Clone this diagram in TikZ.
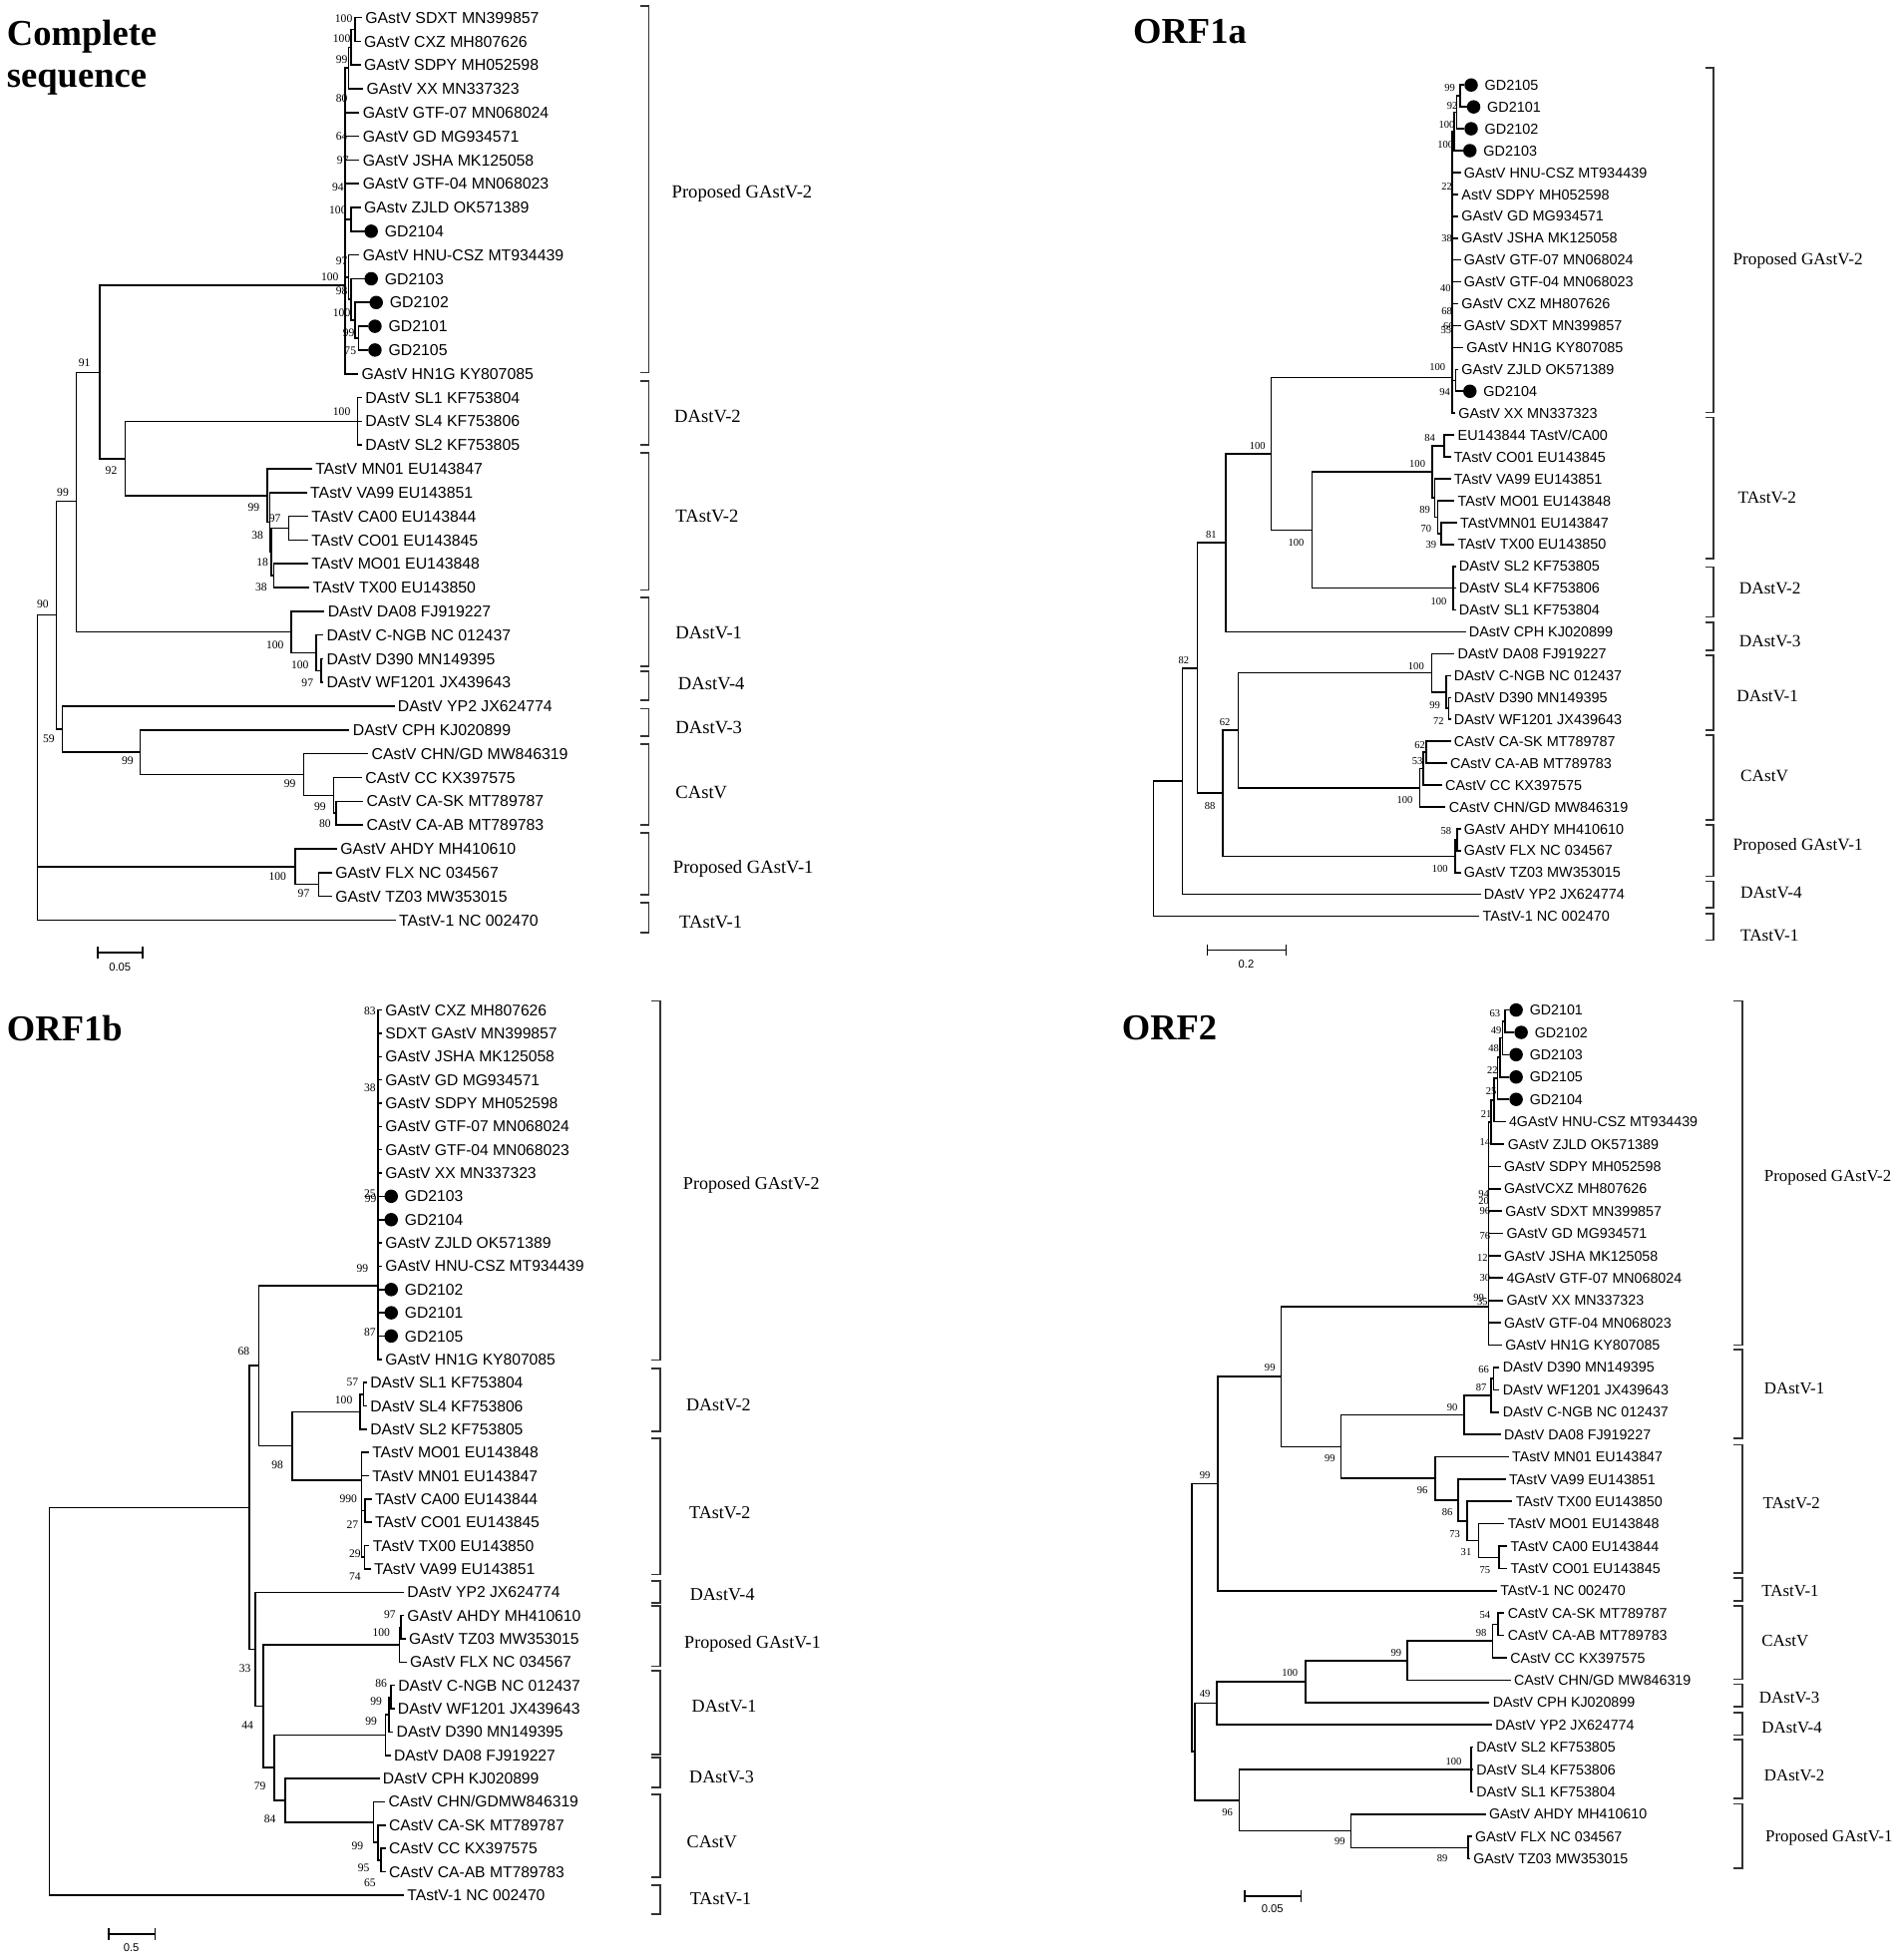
\documentclass[tikz,border=0pt]{standalone}
\usepackage{fontspec}
\setmainfont{Liberation Serif}
\newfontfamily\lsans{Liberation Sans}
\newcounter{phn}
\newcommand\phV[3]{\draw[br] (#1,#2) -- (#1,#3);}
\newcommand\phH[3]{\draw[br] (#1,#3) -- (#2,#3);}
\newcommand\phL[5]{\draw[br] (#1,#2) -- (#3,#2); \node[lf] (#5) at (#3,#2) {#4};}
\newcommand\phD[5]{\node[dotn] (#5d) at (#3,#2) {}; \draw[br] (#1,#2) -- (#5d); \node[lf, xshift=0.95mm] (#5) at (#3,#2) {#4};}
\newcommand\phB[3]{\stepcounter{phn}\node[bs] (bs\arabic{phn}) at (#1,#2) {#3};}
\newcommand\phK[6]{\stepcounter{phn}\draw[brk] ([xshift=-0.85mm]#1,#2) -- (#1,#2) -- (#1,#3) -- ([xshift=-0.85mm]#1,#3); \node[cl] (cl\arabic{phn}) at (#4,#5) {#6};}
\begin{document}
\begin{tikzpicture}[x=0.1253mm, y=-0.1253mm,
  br/.style={line width=0.45pt, line cap=rect},
  brk/.style={line width=0.5pt, draw=black!80},
  dotn/.style={circle, fill=black, draw=none, inner sep=0pt, minimum size=1.35mm},
  ttl/.style={font=\bfseries\fontsize{10.4}{12}\selectfont, anchor=base west, inner sep=0pt},
  sc/.style={font=\lsans\fontsize{3.2}{4}\selectfont, inner sep=0pt}]
\fill[white] (0,0) rectangle (1518,1568);
\useasboundingbox (0,0) rectangle (1518,1568);

%%%%%%%%%%%%%%%% Tree 1: Complete sequence
\begin{scope}[lf/.style={font=\lsans\fontsize{4.5}{5.4}\selectfont, anchor=base west, inner sep=0pt, xshift=0.35mm, yshift=-1.61pt},
  bs/.style={font=\fontsize{3.3}{4}\selectfont, inner sep=0pt},
  cl/.style={font=\fontsize{5.3}{6.4}\selectfont, anchor=west, inner sep=0pt}]
\node[ttl] (t1a) at (5,36) {Complete};
\node[ttl] (t1b) at (5,70) {sequence};
% GAstV-2
\phV{284}{14}{33}
\phL{284}{14}{289}{GAstV SDXT MN399857}{a1}
\phL{284}{33}{288}{GAstV CXZ MH807626}{a2}
\phV{281}{23.5}{52}\phH{281}{284}{23.5}
\phL{281}{52}{288}{GAstV SDPY MH052598}{a3}
\phV{279}{37.75}{71}\phH{279}{281}{37.75}
\phL{279}{71}{290}{GAstV XX MN337323}{a4}
\phV{276}{54.4}{299}\phH{276}{279}{54.4}
\phL{276}{90}{287}{GAstV GTF-07 MN068024}{a5}
\phL{276}{109}{287}{GAstV GD MG934571}{a6}
\phL{276}{128}{287}{GAstV JSHA MK125058}{a7}
\phL{276}{147}{287}{GAstV GTF-04 MN068023}{a8}
\phV{281}{166}{185}\phH{276}{281}{175.5}
\phL{281}{166}{288}{GAstv ZJLD OK571389}{a9}
\phD{281}{185}{297}{GD2104}{a10}
\phV{279}{204}{239.5}\phH{276}{279}{221.75}
\phL{279}{204}{287}{GAstV HNU-CSZ MT934439}{a11}
\phV{281}{223}{256}\phH{279}{281}{239.5}
\phD{281}{223}{297}{GD2103}{a12}
\phV{284}{242}{270.5}\phH{281}{284}{256}
\phD{284}{242}{301}{GD2102}{a13}
\phV{287}{261}{280}\phH{284}{287}{270.5}
\phD{287}{261}{300}{GD2101}{a14}
\phD{287}{280}{300}{GD2105}{a15}
\phL{276}{299}{286}{GAstV HN1G KY807085}{a16}
\phB{275}{14.6}{100}\phB{273.4}{30.6}{100}\phB{273.4}{47.9}{99}\phB{273.4}{79}{80}
\phB{273.4}{109}{64}\phB{274.3}{128.5}{97}\phB{270.4}{150}{94}\phB{270.4}{168}{100}
\phB{273.4}{208.8}{97}\phB{264}{221.3}{100}\phB{273.4}{232.8}{98}\phB{273.4}{250}{100}
\phB{279}{266}{99}\phB{280.3}{280.7}{75}
% DAstV-2
\phV{286}{318}{356}
\phL{286}{318}{289}{DAstV SL1 KF753804}{a17}
\phL{286}{337}{289}{DAstV SL4 KF753806}{a18}
\phL{286}{356}{289}{DAstV SL2 KF753805}{a19}
\phB{273.4}{329.3}{100}
% backbone
\phV{100}{337}{397}\phH{100}{286}{337}\phH{100}{214}{396.4}
\phV{80}{228}{367}\phH{80}{276}{228}\phH{80}{100}{367}
\phV{61}{298}{505.6}\phH{61}{80}{298}\phH{61}{233}{505.6}
\phV{45}{401}{583.4}\phH{45}{61}{401}\phH{45}{50}{583.4}
\phV{50}{565}{601.8}\phH{50}{112}{601.8}
\phL{50}{565}{315}{DAstV YP2 JX624774}{a30}
\phV{30}{492}{736}\phH{30}{45}{492}\phH{30}{236}{693.25}
\phL{30}{736}{316}{TAstV-1 NC 002470}{a39}
\phB{34.3}{483}{90}\phB{67.6}{290}{91}\phB{50.3}{394}{99}\phB{89}{376.4}{92}
% TAstV-2
\phV{214}{375}{417.75}
\phL{214}{375}{249}{TAstV MN01 EU143847}{a20}
\phV{216}{394}{441.5}\phH{214}{216}{417.75}
\phL{216}{394}{245}{TAstV VA99 EU143851}{a21}
\phV{217}{422.5}{460.5}\phH{216}{217}{441.5}
\phV{231}{413}{432}\phH{217}{231}{422.5}
\phL{231}{413}{246}{TAstV CA00 EU143844}{a22}
\phL{231}{432}{246}{TAstV CO01 EU143845}{a23}
\phV{219}{451}{470}\phH{217}{219}{460.5}
\phL{219}{451}{246}{TAstV MO01 EU143848}{a24}
\phL{219}{470}{247}{TAstV TX00 EU143850}{a25}
\phB{203}{406}{99}\phB{220}{415}{97}\phB{206}{428}{38}\phB{210}{450}{18}\phB{209}{470}{38}
% DAstV-1
\phV{233}{489}{522.25}
\phL{233}{489}{259}{DAstV DA08 FJ919227}{a26}
\phV{253}{508}{536.5}\phH{233}{253}{522.25}
\phL{253}{508}{258}{DAstV C-NGB NC 012437}{a27}
\phV{257}{527}{546}\phH{253}{257}{536.5}
\phL{257}{527}{258}{DAstV D390 MN149395}{a28}
\phL{257}{546}{258}{DAstV WF1201 JX439643}{a29}
\phB{220}{516}{100}\phB{240}{532}{100}\phB{246}{546}{97}
% CPH + CAstV
\phV{112}{584}{619.6}
\phL{112}{584}{279}{DAstV CPH KJ020899}{a31}
\phH{112}{243}{619.6}
\phV{243}{603}{636.25}
\phL{243}{603}{294}{CAstV CHN/GD MW846319}{a32}
\phV{267}{622}{650.5}\phH{243}{267}{636.25}
\phL{267}{622}{289}{CAstV CC KX397575}{a33}
\phV{269}{641}{660}\phH{267}{269}{650.5}
\phL{269}{641}{290}{CAstV CA-SK MT789787}{a34}
\phL{269}{660}{290}{CAstV CA-AB MT789783}{a35}
\phB{39}{591}{59}\phB{102}{609}{99}\phB{232}{627}{99}\phB{256}{645}{99}\phB{260}{659}{80}
% GAstV-1
\phV{236}{679}{707.5}
\phL{236}{679}{269}{GAstV AHDY MH410610}{a36}
\phV{255}{698}{717}\phH{236}{255}{707.5}
\phL{255}{698}{265}{GAstV FLX NC 034567}{a37}
\phL{255}{717}{265}{GAstV TZ03 MW353015}{a38}
\phB{222}{701}{100}\phB{243}{715}{97}
% brackets
\phK{519}{5}{298}{537}{155}{Proposed GAstV-2}
\phK{519}{305}{356}{539}{333}{DAstV-2}
\phK{519}{362}{472}{540}{413}{TAstV-2}
\phK{519}{478}{533}{540}{506}{DAstV-1}
\phK{519}{537}{560}{542}{547}{DAstV-4}
\phK{519}{567}{589}{540}{582}{DAstV-3}
\phK{519}{595}{660}{540}{634}{CAstV}
\phK{519}{666}{716}{538}{695}{Proposed GAstV-1}
\phK{519}{722}{746}{543}{738}{TAstV-1}
% scale
\coordinate (s1a) at (78,762); \coordinate (s1b) at (114,762);
\draw[br] (s1a) -- (s1b);
\draw[br] ([yshift=0.5mm]s1a) -- ([yshift=-0.5mm]s1a);
\draw[br] ([yshift=0.5mm]s1b) -- ([yshift=-0.5mm]s1b);
\node[sc] (s1t) at (96,774) {0.05};
\end{scope}

%%%%%%%%%%%%%%%% Tree 2: ORF1a
\begin{scope}[lf/.style={font=\lsans\fontsize{4.1}{5}\selectfont, anchor=base west, inner sep=0pt, xshift=0.35mm, yshift=-1.47pt},
  bs/.style={font=\fontsize{3.0}{3.6}\selectfont, inner sep=0pt},
  cl/.style={font=\fontsize{4.9}{5.9}\selectfont, anchor=west, inner sep=0pt}]
\node[ttl] (t2) at (906,35) {ORF1a};
\phV{1168}{68}{85.5}
\phD{1168}{68}{1177}{GD2105}{b1}
\phD{1168}{85.5}{1179}{GD2101}{b2}
\phV{1165.5}{76.75}{103}\phH{1165.5}{1168}{76.75}
\phD{1165.5}{103}{1177}{GD2102}{b3}
\phV{1163.5}{89.9}{120.5}\phH{1163.5}{1165.5}{89.9}
\phD{1163.5}{120.5}{1176}{GD2103}{b4}
\phV{1162}{105.2}{330.5}\phH{1162}{1163.5}{105.2}
\phL{1162}{138}{1168}{GAstV HNU-CSZ MT934439}{b5}
\phL{1162}{155.5}{1166}{AstV SDPY MH052598}{b6}
\phL{1162}{173}{1166}{GAstV GD MG934571}{b7}
\phL{1162}{190.5}{1166}{GAstV JSHA MK125058}{b8}
\phL{1162}{208}{1168}{GAstV GTF-07 MN068024}{b9}
\phL{1162}{225.5}{1168}{GAstV GTF-04 MN068023}{b10}
\phL{1162}{243}{1166}{GAstV CXZ MH807626}{b11}
\phL{1162}{260.5}{1168}{GAstV SDXT MN399857}{b12}
\phL{1162}{278}{1170}{GAstV HN1G KY807085}{b13}
\phV{1164.5}{295.5}{313}\phH{1162}{1164.5}{304.25}
\phL{1164.5}{295.5}{1166}{GAstV ZJLD OK571389}{b14}
\phD{1164.5}{313}{1176}{GD2104}{b15}
\phL{1162}{330.5}{1163.5}{GAstV XX MN337323}{b16}
\phB{1160}{70}{99}\phB{1162}{85}{92}\phB{1157.5}{100}{100}\phB{1156.5}{116}{100}
\phB{1157.5}{149}{22}\phB{1157.5}{191}{38}\phB{1156.5}{231}{40}\phB{1157.5}{249}{68}
\phB{1159}{261}{66}\phB{1157}{264.5}{55}\phB{1150}{294}{100}\phB{1156}{314}{94}
\phH{1017}{1162}{302}
% TAstV-2
\phV{1155.6}{348}{365.5}
\phL{1155.6}{348}{1163}{EU143844 TAstV/CA00}{b17}
\phL{1155.6}{365.5}{1160}{TAstV CO01 EU143845}{b18}
\phV{1146}{356.75}{398.3}\phH{1146}{1155.6}{356.75}
\phV{1148}{383}{413.6}\phH{1146}{1148}{398.3}
\phL{1148}{383}{1160}{TAstV VA99 EU143851}{b19}
\phV{1150.3}{400.5}{426.75}\phH{1148}{1150.3}{413.6}
\phL{1150.3}{400.5}{1163}{TAstV MO01 EU143848}{b20}
\phV{1153}{418}{435.5}\phH{1150.3}{1153}{426.75}
\phL{1153}{418}{1165}{TAstVMN01 EU143847}{b21}
\phL{1153}{435.5}{1163}{TAstV TX00 EU143850}{b22}
\phB{1144}{350}{84}\phB{1134}{371}{100}\phB{1140}{408}{89}\phB{1141}{423}{70}\phB{1145}{436}{39}
\phH{1049.6}{1146}{377.5}
% DAstV-2
\phV{1162.6}{453}{488}
\phL{1162.6}{453}{1164}{DAstV SL2 KF753805}{b23}
\phL{1162.6}{470.5}{1164}{DAstV SL4 KF753806}{b24}
\phL{1162.6}{488}{1164}{DAstV SL1 KF753804}{b25}
\phH{1049.6}{1162.6}{470.5}
\phB{1151}{481}{100}
\phV{1049.6}{377.5}{470.5}\phB{1037}{434}{100}\phH{1017}{1049.6}{424}
\phV{1017}{302}{424}\phB{1006}{357}{100}\phH{980.5}{1017}{363}
\phV{980.5}{363}{505.5}\phB{969}{428}{81}\phH{958}{980.5}{434.25}
\phL{980.5}{505.5}{1172}{DAstV CPH KJ020899}{b26}
% DAstV-1
\phV{1145.5}{523}{553.6}
\phL{1145.5}{523}{1163}{DAstV DA08 FJ919227}{b27}
\phV{1157}{540.5}{566.75}\phH{1145.5}{1157}{553.6}
\phL{1157}{540.5}{1160}{DAstV C-NGB NC 012437}{b28}
\phV{1159}{558}{575.5}\phH{1157}{1159}{566.75}
\phL{1159}{558}{1160}{DAstV D390 MN149395}{b29}
\phL{1159}{575.5}{1160}{DAstV WF1201 JX439643}{b30}
\phB{1133}{533}{100}\phB{1148}{564}{99}\phB{1151}{577}{72}
\phH{990.5}{1145.5}{538.3}
% CAstV
\phV{1141}{593}{610.5}
\phL{1141}{593}{1160}{CAstV CA-SK MT789787}{b31}
\phL{1141}{610.5}{1157}{CAstV CA-AB MT789783}{b32}
\phV{1138.5}{601.75}{628}\phH{1138.5}{1141}{601.75}
\phL{1138.5}{628}{1153}{CAstV CC KX397575}{b33}
\phV{1136}{614.9}{645.5}\phH{1136}{1138.5}{614.9}
\phL{1136}{645.5}{1156}{CAstV CHN/GD MW846319}{b34}
\phB{1136}{596}{62}\phB{1134}{609}{53}\phB{1124}{640}{100}
\phH{990.5}{1136}{630.2}
\phV{990.5}{538.3}{630.2}\phB{980}{578}{62}\phH{978.3}{990.5}{584.25}
% GAstV-1
\phV{1166}{663}{680.5}
\phL{1166}{663}{1168}{GAstV AHDY MH410610}{b35}
\phL{1166}{680.5}{1168}{GAstV FLX NC 034567}{b36}
\phV{1164}{671.75}{698}\phH{1164}{1166}{671.75}
\phL{1164}{698}{1168}{GAstV TZ03 MW353015}{b37}
\phB{1157}{665}{58}\phB{1152}{695}{100}
\phH{978.3}{1164}{684.9}
\phV{978.3}{584.25}{684.9}\phB{968}{645}{88}\phH{958}{978.3}{634.6}
\phV{958}{434.25}{634.6}\phB{947}{528}{82}\phH{946}{958}{534.4}
\phV{946}{534.4}{715.5}\phH{923}{946}{625}
\phL{946}{715.5}{1184}{DAstV YP2 JX624774}{b38}
\phV{923}{625}{733}
\phL{923}{733}{1183}{TAstV-1 NC 002470}{b39}
% brackets
\phK{1371}{54.5}{330}{1386}{208.5}{Proposed GAstV-2}
\phK{1371}{334}{447}{1390}{398.5}{TAstV-2}
\phK{1371}{453.6}{493.5}{1391}{470.5}{DAstV-2}
\phK{1371}{498}{520}{1391}{513}{DAstV-3}
\phK{1371}{524}{584}{1389}{557}{DAstV-1}
\phK{1371}{588}{656}{1392}{621}{CAstV}
\phK{1371}{660}{701}{1386}{677}{Proposed GAstV-1}
\phK{1371}{705}{726}{1392}{714.5}{DAstV-4}
\phK{1371}{731}{752}{1392}{748.5}{TAstV-1}
\coordinate (s2a) at (966,760); \coordinate (s2b) at (1029,760);
\draw[br] (s2a) -- (s2b);
\draw[br] ([yshift=0.5mm]s2a) -- ([yshift=-0.5mm]s2a);
\draw[br] ([yshift=0.5mm]s2b) -- ([yshift=-0.5mm]s2b);
\node[sc] (s2t) at (997,771) {0.2};
\end{scope}

%%%%%%%%%%%%%%%% Tree 3: ORF1b
\begin{scope}[lf/.style={font=\lsans\fontsize{4.45}{5.3}\selectfont, anchor=base west, inner sep=0pt, xshift=0.35mm, yshift=-1.59pt},
  bs/.style={font=\fontsize{3.3}{4}\selectfont, inner sep=0pt},
  cl/.style={font=\fontsize{5.15}{6.2}\selectfont, anchor=west, inner sep=0pt}]
\node[ttl] (t3) at (5,833) {ORF1b};
\phV{302.3}{808}{1087.5}
\phH{207.2}{302.3}{1028.5}
\phL{302.3}{808}{305}{GAstV CXZ MH807626}{c1}
\phL{302.3}{826.6}{305}{SDXT GAstV MN399857}{c2}
\phL{302.3}{845.3}{305}{GAstV JSHA MK125058}{c3}
\phL{302.3}{863.9}{305}{GAstV GD MG934571}{c4}
\phL{302.3}{882.5}{305}{GAstV SDPY MH052598}{c5}
\phL{302.3}{901.2}{305}{GAstV GTF-07 MN068024}{c6}
\phL{302.3}{919.8}{305}{GAstV GTF-04 MN068023}{c7}
\phL{302.3}{938.4}{305}{GAstV XX MN337323}{c8}
\phD{302.3}{957}{313}{GD2103}{c9}
\phD{302.3}{975.7}{313}{GD2104}{c10}
\phL{302.3}{994.3}{305}{GAstV ZJLD OK571389}{c11}
\phL{302.3}{1012.9}{305}{GAstV HNU-CSZ MT934439}{c12}
\phD{302.3}{1031.6}{313}{GD2102}{c13}
\phD{302.3}{1050.2}{313}{GD2101}{c14}
\phD{302.3}{1068.8}{313}{GD2105}{c15}
\phL{302.3}{1087.5}{305}{GAstV HN1G KY807085}{c16}
\phB{296}{809}{83}\phB{296}{870}{38}\phB{296}{955}{25}\phB{296.5}{959}{99}\phB{290}{1015}{99}\phB{296}{1066}{87}
% DAstV-2
\phV{291}{1106.1}{1124.7}
\phL{291}{1106.1}{293}{DAstV SL1 KF753804}{c17}
\phL{291}{1124.7}{293}{DAstV SL4 KF753806}{c18}
\phV{288}{1115.4}{1143.3}\phH{288}{291}{1115.4}
\phL{288}{1143.3}{293}{DAstV SL2 KF753805}{c19}
\phB{282}{1106}{57}\phB{275}{1120}{100}
\phH{234}{288}{1129.4}
% TAstV-2
\phV{289.3}{1162}{1245.8}
\phL{289.3}{1162}{294.5}{TAstV MO01 EU143848}{c20}
\phL{289.3}{1180.6}{294.5}{TAstV MN01 EU143847}{c21}
\phV{292}{1199.2}{1217.9}\phH{289.3}{292}{1208.5}
\phL{292}{1199.2}{296.7}{TAstV CA00 EU143844}{c22}
\phL{292}{1217.9}{296.7}{TAstV CO01 EU143845}{c23}
\phV{291.5}{1236.5}{1255.1}\phH{289.3}{291.5}{1245.8}
\phL{291.5}{1236.5}{295}{TAstV TX00 EU143850}{c24}
\phL{291.5}{1255.1}{296}{TAstV VA99 EU143851}{c25}
\phB{278.7}{1199}{990}\phB{282}{1220}{27}\phB{284}{1243}{29}\phB{284}{1261}{74}
\phH{234}{289.3}{1184}
\phV{234}{1129.4}{1184}\phB{222}{1172}{98}\phH{207.2}{234}{1156.7}
\phV{207.2}{1028.5}{1156.7}\phB{195}{1081}{68}\phH{199.5}{207.2}{1092.6}
\phV{199.5}{1092.6}{1319.4}\phH{199.5}{204.3}{1319.4}
\phV{204.3}{1273.8}{1364.9}\phB{196}{1335}{33}\phH{204.3}{210.8}{1364.9}
\phL{204.3}{1273.8}{322.6}{DAstV YP2 JX624774}{c26}
\phV{210.8}{1315.7}{1414.1}\phB{198}{1380}{44}\phH{210.8}{319.6}{1315.7}\phH{210.8}{219.4}{1414.1}
% GAstV-1
\phV{321}{1292.4}{1311}
\phL{321}{1292.4}{322.6}{GAstV AHDY MH410610}{c27}
\phL{321}{1311}{323.9}{GAstV TZ03 MW353015}{c28}
\phV{319.6}{1301.7}{1329.7}\phH{319.6}{321}{1301.7}
\phL{319.6}{1329.7}{324.8}{GAstV FLX NC 034567}{c29}
\phB{312}{1292}{97}\phB{305}{1306}{100}
\phV{219.4}{1387.9}{1440.3}\phB{208}{1429}{79}\phH{219.4}{308.3}{1387.9}\phH{219.4}{228}{1440.3}
% DAstV-1
\phV{313}{1348.3}{1366.9}
\phL{313}{1348.3}{315.3}{DAstV C-NGB NC 012437}{c30}
\phL{313}{1366.9}{315}{DAstV WF1201 JX439643}{c31}
\phV{311}{1357.6}{1385.5}\phH{311}{313}{1357.6}
\phL{311}{1385.5}{314}{DAstV D390 MN149395}{c32}
\phV{308.3}{1371.6}{1404.2}\phH{308.3}{311}{1371.6}
\phL{308.3}{1404.2}{312}{DAstV DA08 FJ919227}{c33}
\phB{305}{1347}{86}\phB{301}{1361}{99}\phB{297}{1377}{99}
\phV{228}{1422.8}{1457.7}\phB{216}{1455}{84}\phH{228}{298.8}{1457.7}
\phL{228}{1422.8}{303}{DAstV CPH KJ020899}{c34}
% CAstV
\phV{298.8}{1441.4}{1474}
\phL{298.8}{1441.4}{307.5}{CAstV CHN/GDMW846319}{c35}
\phV{302.5}{1460.1}{1488}\phH{298.8}{302.5}{1474}
\phL{302.5}{1460.1}{308}{CAstV CA-SK MT789787}{c36}
\phV{305}{1478.7}{1497.3}\phH{302.5}{305}{1488}
\phL{305}{1478.7}{308}{CAstV CC KX397575}{c37}
\phL{305}{1497.3}{308}{CAstV CA-AB MT789783}{c38}
\phB{286}{1477}{99}\phB{291}{1494}{95}\phB{296}{1506}{65}
\phV{39.6}{1206}{1515.9}\phH{39.6}{199.5}{1206}
\phL{39.6}{1515.9}{322.6}{TAstV-1 NC 002470}{c39}
% brackets
\phK{528}{800.7}{1088}{546}{948.3}{Proposed GAstV-2}
\phK{528}{1094.7}{1145}{548.5}{1124}{DAstV-2}
\phK{528}{1150.5}{1259.6}{551}{1210.4}{TAstV-2}
\phK{528}{1265}{1282.3}{551.5}{1275.6}{DAstV-4}
\phK{528}{1285}{1332.9}{547}{1315.5}{Proposed GAstV-1}
\phK{528}{1336.8}{1403.3}{553}{1364.7}{DAstV-1}
\phK{528}{1406}{1430}{551}{1421.9}{DAstV-3}
\phK{528}{1435.3}{1501.8}{549}{1473.7}{CAstV}
\phK{528}{1508.4}{1531}{551.5}{1518.9}{TAstV-1}
\coordinate (s3a) at (87,1547); \coordinate (s3b) at (124,1547);
\draw[br] (s3a) -- (s3b);
\draw[br] ([yshift=0.5mm]s3a) -- ([yshift=-0.5mm]s3a);
\draw[br] ([yshift=0.5mm]s3b) -- ([yshift=-0.5mm]s3b);
\node[sc] (s3t) at (105,1558) {0.5};
\end{scope}

%%%%%%%%%%%%%%%% Tree 4: ORF2
\begin{scope}[lf/.style={font=\lsans\fontsize{4.05}{4.9}\selectfont, anchor=base west, inner sep=0pt, xshift=0.35mm, yshift=-1.45pt},
  bs/.style={font=\fontsize{3.0}{3.6}\selectfont, inner sep=0pt},
  cl/.style={font=\fontsize{4.8}{5.8}\selectfont, anchor=west, inner sep=0pt}]
\node[ttl] (t4) at (897,832) {ORF2};
\phV{1204}{808}{825.9}
\phD{1204}{808}{1213}{GD2101}{d1}
\phD{1204}{825.9}{1217}{GD2102}{d2}
\phV{1202}{817}{843.7}\phH{1202}{1204}{817}
\phD{1202}{843.7}{1213}{GD2103}{d3}
\phV{1200}{830.3}{861.6}\phH{1200}{1202}{830.3}
\phD{1200}{861.6}{1213}{GD2105}{d4}
\phV{1198}{846}{879.5}\phH{1198}{1200}{846}
\phD{1198}{879.5}{1213}{GD2104}{d5}
\phV{1195.5}{862.7}{897.4}\phH{1195.5}{1198}{862.7}
\phL{1195.5}{897.4}{1204}{4GAstV HNU-CSZ MT934439}{d6}
\phV{1193}{880}{915.2}\phH{1193}{1195.5}{880}
\phL{1193}{915.2}{1203}{GAstV ZJLD OK571389}{d7}
\phV{1191}{897.6}{1076.1}\phH{1191}{1193}{897.6}
\phL{1191}{933.1}{1200}{GAstV SDPY MH052598}{d8}
\phL{1191}{951}{1200}{GAstVCXZ MH807626}{d9}
\phL{1191}{968.8}{1201}{GAstV SDXT MN399857}{d10}
\phL{1191}{986.7}{1202}{GAstV GD MG934571}{d11}
\phL{1191}{1004.6}{1200}{GAstV JSHA MK125058}{d12}
\phL{1191}{1022.4}{1202}{4GAstV GTF-07 MN068024}{d13}
\phL{1191}{1040.3}{1202}{GAstV XX MN337323}{d14}
\phL{1191}{1058.2}{1200}{GAstV GTF-04 MN068023}{d15}
\phL{1191}{1076.1}{1201}{GAstV HN1G KY807085}{d16}
\phB{1196}{811}{63}\phB{1197}{824}{49}\phB{1195}{839}{48}\phB{1194}{856}{22}\phB{1193}{873}{25}
\phB{1189}{891}{21}\phB{1188}{914}{14}\phB{1187}{955}{94}\phB{1187}{961}{20}\phB{1188}{969}{96}
\phB{1188}{989}{76}\phB{1186}{1006}{12}\phB{1188}{1022}{30}\phB{1183}{1038}{99}\phB{1186}{1041}{35}
\phH{1025}{1191}{1045.5}
% DAstV-1
\phV{1195}{1093.9}{1111.8}
\phL{1195}{1093.9}{1199}{DAstV D390 MN149395}{d17}
\phL{1195}{1111.8}{1199}{DAstV WF1201 JX439643}{d18}
\phV{1193}{1102.9}{1129.7}\phH{1193}{1195}{1102.9}
\phL{1193}{1129.7}{1199}{DAstV C-NGB NC 012437}{d19}
\phV{1171.5}{1116.3}{1147.5}\phH{1171.5}{1193}{1116.3}
\phL{1171.5}{1147.5}{1200}{DAstV DA08 FJ919227}{d20}
\phB{1187}{1096}{66}\phB{1185}{1110}{87}\phB{1162}{1126}{90}
\phH{1073}{1171.5}{1131.9}
% TAstV-2
\phV{1148.3}{1165.4}{1200}
\phL{1148.3}{1165.4}{1206.5}{TAstV MN01 EU143847}{d21}
\phV{1166.6}{1183.3}{1216.8}\phH{1148.3}{1166.6}{1200}
\phL{1166.6}{1183.3}{1204}{TAstV VA99 EU143851}{d22}
\phV{1174}{1201.1}{1232.4}\phH{1166.6}{1174}{1216.8}
\phL{1174}{1201.1}{1209.4}{TAstV TX00 EU143850}{d23}
\phV{1183}{1219}{1245.9}\phH{1174}{1183}{1232.4}
\phL{1183}{1219}{1203}{TAstV MO01 EU143848}{d24}
\phV{1199.2}{1236.9}{1254.8}\phH{1183}{1199.2}{1245.9}
\phL{1199.2}{1236.9}{1205.3}{TAstV CA00 EU143844}{d25}
\phL{1199.2}{1254.8}{1205.3}{TAstV CO01 EU143845}{d26}
\phB{1138}{1192}{96}\phB{1158}{1210}{86}\phB{1164}{1227}{73}\phB{1173}{1242}{31}\phB{1188}{1256}{75}
\phH{1073}{1148.3}{1182.7}
\phV{1073}{1131.9}{1182.7}\phB{1064}{1167}{99}\phH{1025}{1073}{1157.3}
\phV{1025}{1045.5}{1157.3}\phB{1016}{1094}{99}\phH{974.4}{1025}{1101.4}
\phV{974.4}{1101.4}{1272.6}\phB{964}{1180}{99}\phH{953.6}{974.4}{1187}
\phL{974.4}{1272.6}{1197}{TAstV-1 NC 002470}{d27}
% CAstV
\phV{1198.4}{1290.5}{1308.4}
\phL{1198.4}{1290.5}{1203}{CAstV CA-SK MT789787}{d28}
\phL{1198.4}{1308.4}{1203}{CAstV CA-AB MT789783}{d29}
\phV{1194.3}{1299.4}{1326.2}\phH{1194.3}{1198.4}{1299.4}
\phL{1194.3}{1326.2}{1205}{CAstV CC KX397575}{d30}
\phV{1126}{1312.8}{1344.1}\phH{1126}{1194.3}{1312.8}
\phL{1126}{1344.1}{1208}{CAstV CHN/GD MW846319}{d31}
\phB{1188}{1292}{54}\phB{1185}{1306}{98}\phB{1117}{1322}{99}
\phH{1044.4}{1126}{1328.5}
\phV{1044.4}{1328.5}{1362}\phB{1032}{1338}{100}\phH{973.6}{1044.4}{1345.2}
\phL{1044.4}{1362}{1191}{DAstV CPH KJ020899}{d32}
\phV{973.6}{1345.2}{1379.8}\phB{964}{1355}{49}\phH{956}{973.6}{1362.5}
\phL{973.6}{1379.8}{1193}{DAstV YP2 JX624774}{d33}
% DAstV-2
\phV{1176.8}{1397.7}{1433.5}
\phL{1176.8}{1397.7}{1178}{DAstV SL2 KF753805}{d34}
\phL{1176.8}{1415.6}{1178}{DAstV SL4 KF753806}{d35}
\phL{1176.8}{1433.5}{1178}{DAstV SL1 KF753804}{d36}
\phB{1163}{1409}{100}
\phH{991.5}{1176.8}{1415.6}
% GAstV-1
\phV{1081}{1451.3}{1478.1}
\phL{1081}{1451.3}{1188}{GAstV AHDY MH410610}{d37}
\phV{1174.8}{1469.2}{1487.1}\phH{1081}{1174.8}{1478.1}
\phL{1174.8}{1469.2}{1177}{GAstV FLX NC 034567}{d38}
\phL{1174.8}{1487.1}{1175.5}{GAstV TZ03 MW353015}{d39}
\phB{1072}{1473}{99}\phB{1154}{1487}{89}
\phH{991.5}{1081}{1464.7}
\phV{991.5}{1415.6}{1464.7}\phB{982}{1450}{96}\phH{956}{991.5}{1440.2}
\phV{956}{1362.5}{1440.2}\phH{953.6}{956}{1401.3}
\phV{953.6}{1187}{1401.3}
% brackets
\phK{1394}{800.7}{1076}{1411}{941.7}{Proposed GAstV-2}
\phK{1394}{1079.6}{1150.6}{1411}{1110.6}{DAstV-1}
\phK{1394}{1155.9}{1258.3}{1410}{1202.5}{TAstV-2}
\phK{1394}{1262.3}{1281}{1409}{1273}{TAstV-1}
\phK{1394}{1285}{1343.4}{1409}{1312.8}{CAstV}
\phK{1394}{1347.4}{1365.2}{1407}{1358}{DAstV-3}
\phK{1394}{1370}{1388.1}{1409}{1382}{DAstV-4}
\phK{1394}{1391.8}{1438.6}{1411}{1420.6}{DAstV-2}
\phK{1394}{1443.1}{1494.4}{1412}{1469.8}{Proposed GAstV-1}
\coordinate (s4a) at (996,1517); \coordinate (s4b) at (1041,1517);
\draw[br] (s4a) -- (s4b);
\draw[br] ([yshift=0.5mm]s4a) -- ([yshift=-0.5mm]s4a);
\draw[br] ([yshift=0.5mm]s4b) -- ([yshift=-0.5mm]s4b);
\node[sc] (s4t) at (1018,1527) {0.05};
\end{scope}
\end{tikzpicture}
\end{document}
